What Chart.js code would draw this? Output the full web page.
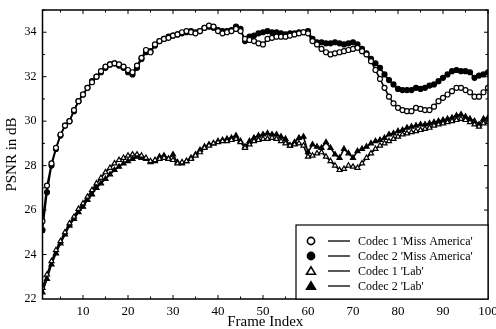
<!DOCTYPE html>
<html>
<head>
<meta charset="utf-8">
<script src="https://cdn.jsdelivr.net/npm/chart.js@4"></script>
<style>
  html, body { margin: 0; padding: 0; background: #fff; }
  #wrap { width: 496px; height: 329px; }
</style>
</head>
<body>
<div id="wrap"><canvas id="psnr"></canvas></div>
<script>
// frame index 1..100
const frames = Array.from({ length: 100 }, (_, i) => i + 1);
const xTicks = [10, 20, 30, 40, 50, 60, 70, 80, 90, 100];
const yTicks = [22, 24, 26, 28, 30, 32, 34];

const codec1Miss = [
  25.5, 27.1, 28.1, 28.8, 29.4, 29.8, 30.0, 30.5, 30.9, 31.2,
  31.5, 31.75, 32.0, 32.25, 32.45, 32.55, 32.6, 32.55, 32.45, 32.3,
  32.2, 32.5, 32.85, 33.2, 33.1, 33.45, 33.6, 33.7, 33.75, 33.85,
  33.9, 34.0, 34.05, 34.0, 33.95, 34.05, 34.2, 34.3, 34.25, 34.05,
  33.95, 34.0, 34.05, 34.15, 34.05, 33.7, 33.65, 33.6, 33.5, 33.45,
  33.7, 33.75, 33.8, 33.8, 33.8, 33.85, 33.9, 33.95, 34.0, 33.95,
  33.6, 33.45, 33.25, 33.1, 33.0, 33.05, 33.1, 33.15, 33.2, 33.25,
  33.3, 33.15, 33.0, 32.7, 32.3, 31.9, 31.5, 31.1, 30.8, 30.6,
  30.5, 30.45, 30.45, 30.6, 30.55, 30.5, 30.5, 30.65, 30.9, 31.05,
  31.2, 31.35, 31.5, 31.5, 31.4, 31.3, 31.1, 31.1, 31.3, 31.5
];
const codec2Miss = [
  25.1, 26.8, 28.0, 28.75, 29.35, 29.8, 30.0, 30.45, 30.9, 31.2,
  31.5, 31.8, 32.0, 32.2, 32.4, 32.55, 32.6, 32.5, 32.4, 32.2,
  32.1, 32.4, 32.8, 33.1, 33.15, 33.4, 33.6, 33.7, 33.8, 33.85,
  33.9, 33.95, 34.0, 34.05, 34.0, 34.05, 34.2, 34.25, 34.2, 34.1,
  34.05, 34.05, 34.1, 34.25, 34.15, 33.6, 33.8, 33.85, 33.95, 34.0,
  34.05, 34.0, 34.0, 33.95, 33.9, 33.95, 33.95, 34.0, 34.0, 34.05,
  33.7, 33.55, 33.55, 33.5, 33.5, 33.55, 33.5, 33.45, 33.5, 33.55,
  33.45, 33.25, 33.05, 32.8, 32.6, 32.4, 32.1, 31.85, 31.65, 31.45,
  31.4, 31.4, 31.4, 31.5, 31.45, 31.5, 31.6, 31.65, 31.8, 31.95,
  32.1, 32.25, 32.3, 32.25, 32.25, 32.2, 31.95, 32.05, 32.1, 32.2
];
const codec1Lab = [
  22.5, 23.1, 23.7, 24.2, 24.6, 25.0, 25.4, 25.7, 26.05, 26.3,
  26.6, 26.9, 27.2, 27.45, 27.7, 27.9, 28.1, 28.25, 28.35, 28.45,
  28.5, 28.5, 28.45, 28.35, 28.2, 28.25, 28.3, 28.35, 28.3, 28.25,
  28.1, 28.15, 28.2, 28.3, 28.45, 28.6, 28.8, 28.9, 29.0, 29.05,
  29.1, 29.1, 29.15, 29.2, 29.05, 28.8, 28.95, 29.1, 29.15, 29.2,
  29.2, 29.25, 29.2, 29.1, 29.0, 28.9, 28.95, 29.0, 28.9, 28.4,
  28.45, 28.55, 28.6, 28.4, 28.2, 28.0, 27.8, 27.85, 28.0, 27.95,
  27.9, 28.1, 28.35, 28.55, 28.75, 28.9, 29.0, 29.1, 29.2, 29.3,
  29.4, 29.45, 29.5, 29.55, 29.6, 29.65, 29.7, 29.8, 29.85, 29.9,
  29.95, 30.0, 30.05, 30.1, 30.05, 29.95, 29.85, 29.75, 29.9, 29.95
];
const codec2Lab = [
  22.3, 22.9, 23.55, 24.05, 24.5, 24.9, 25.3, 25.6, 25.9, 26.15,
  26.45, 26.7, 27.0, 27.2, 27.4, 27.6, 27.8, 27.95, 28.1, 28.2,
  28.3, 28.4, 28.35, 28.3, 28.15, 28.2, 28.4, 28.45, 28.3, 28.5,
  28.15, 28.1, 28.2, 28.35, 28.5, 28.7, 28.85, 28.95, 29.0, 29.1,
  29.15, 29.2, 29.25, 29.35, 29.1, 28.85, 29.1, 29.25, 29.35, 29.4,
  29.45, 29.4, 29.4, 29.3, 29.2, 28.9, 29.05, 29.25, 29.3, 28.6,
  28.95, 28.85, 28.8, 29.05, 28.8, 28.5, 28.35, 28.75, 28.55, 28.35,
  28.65, 28.75, 28.85, 29.0, 29.1, 29.15, 29.25, 29.4, 29.45, 29.55,
  29.6, 29.7, 29.75, 29.8, 29.85, 29.85, 29.9, 29.95, 30.0, 30.05,
  30.1, 30.15, 30.25, 30.3, 30.2, 30.1, 30.0, 29.85, 30.1, 30.15
];

const serif = "'Liberation Serif', 'DejaVu Serif', serif";

function series(label, values, style, filled) {
  return {
    label: label,
    data: values.map((v, i) => ({ x: frames[i], y: v })),
    borderColor: '#000',
    borderWidth: 1.6,
    pointStyle: style,
    pointRadius: style === 'triangle' ? 2.9 : 2.5,
    pointBorderWidth: 1.2,
    pointBorderColor: '#000',
    pointBackgroundColor: filled ? '#000' : '#fff',
    tension: 0,
    fill: false
  };
}

// frame, inward tick marks on all four sides, legend box
const framePlugin = {
  id: 'frame',
  afterDraw(chart) {
    const ctx = chart.ctx;
    const a = chart.chartArea;
    const xs = chart.scales.x, ys = chart.scales.y;
    ctx.save();
    ctx.strokeStyle = '#000';
    ctx.lineWidth = 1.5;
    ctx.strokeRect(a.left, a.top, a.right - a.left, a.bottom - a.top);
    ctx.lineWidth = 1;
    ctx.beginPath();
    for (let v = 5; v <= 100; v += 5) {
      const p = xs.getPixelForValue(v);
      const len = v % 10 === 0 ? 4 : 2.5;
      ctx.moveTo(p, a.bottom); ctx.lineTo(p, a.bottom - len);
      ctx.moveTo(p, a.top); ctx.lineTo(p, a.top + len);
    }
    for (let v = 23; v <= 35; v += 1) {
      const p = ys.getPixelForValue(v);
      const len = v % 2 === 0 ? 4 : 2.5;
      ctx.moveTo(a.left, p); ctx.lineTo(a.left + len, p);
      ctx.moveTo(a.right, p); ctx.lineTo(a.right - len, p);
    }
    ctx.stroke();

    // legend
    const bx = 296, by = 225, bw = a.right - bx, bh = a.bottom - by;
    ctx.fillStyle = '#fff';
    ctx.fillRect(bx, by, bw, bh);
    ctx.lineWidth = 1.2;
    ctx.strokeRect(bx, by, bw, bh);
    ctx.font = '12px ' + serif;
    ctx.textBaseline = 'middle';
    chart.data.datasets.forEach((ds, i) => {
      const y = 241 + i * 15;
      const mx = 311;
      ctx.fillStyle = ds.pointBackgroundColor;
      ctx.strokeStyle = '#000';
      ctx.lineWidth = 1.6;
      ctx.beginPath();
      if (ds.pointStyle === 'circle') {
        ctx.arc(mx, y, 3.6, 0, Math.PI * 2);
      } else {
        ctx.moveTo(mx, y - 4.2);
        ctx.lineTo(mx + 4.4, y + 3.2);
        ctx.lineTo(mx - 4.4, y + 3.2);
        ctx.closePath();
      }
      ctx.fill();
      ctx.stroke();
      ctx.lineWidth = 1.3;
      ctx.beginPath();
      ctx.moveTo(328, y); ctx.lineTo(350, y);
      ctx.stroke();
      ctx.fillStyle = '#000';
      ctx.fillText(ds.label, 358, y + 0.5);
    });
    ctx.restore();
  }
};

new Chart(document.getElementById('psnr'), {
  type: 'line',
  data: {
    datasets: [
      series("Codec 1 'Miss America'", codec1Miss, 'circle', false),
      series("Codec 2 'Miss America'", codec2Miss, 'circle', true),
      series("Codec 1 'Lab'", codec1Lab, 'triangle', false),
      series("Codec 2 'Lab'", codec2Lab, 'triangle', true)
    ]
  },
  options: {
    responsive: true,
    maintainAspectRatio: false,
    animation: false,
    layout: { padding: { top: 10, right: 8, left: 0, bottom: 0 } },
    plugins: { legend: { display: false }, tooltip: { enabled: false } },
    scales: {
      x: {
        type: 'linear',
        min: 1,
        max: 100,
        grid: { display: false, drawTicks: false, tickLength: 0 },
        border: { display: false },
        afterBuildTicks: s => { s.ticks = xTicks.map(v => ({ value: v })); },
        afterFit: s => { s.height = 30; s.paddingLeft = 0; s.paddingRight = 0; },
        ticks: { color: '#000', font: { family: serif, size: 13 }, padding: 5, maxRotation: 0 },
        title: { display: true, text: 'Frame Index', color: '#000', font: { family: serif, size: 15 }, padding: { top: 0, bottom: -2 } }
      },
      y: {
        min: 22,
        max: 35,
        grid: { display: false, drawTicks: false, tickLength: 0 },
        border: { display: false },
        afterBuildTicks: s => { s.ticks = yTicks.map(v => ({ value: v })); },
        afterFit: s => { s.width = 42.5; s.paddingTop = 0; s.paddingBottom = 0; },
        ticks: { color: '#000', font: { family: serif, size: 12 }, padding: 6 },
        title: { display: true, text: 'PSNR in dB', color: '#000', font: { family: serif, size: 15 }, padding: { top: 3, bottom: 0 } }
      }
    }
  },
  plugins: [framePlugin]
});
</script>
</body>
</html>
